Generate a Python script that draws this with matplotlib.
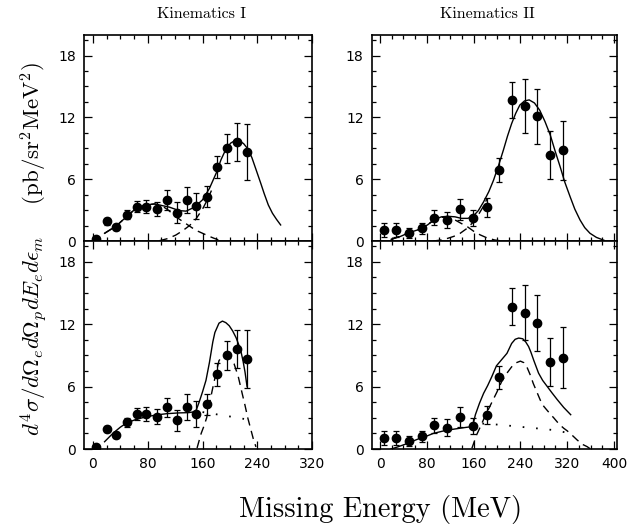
import matplotlib
matplotlib.use("Agg")
from matplotlib import pyplot as plt
from matplotlib.ticker import MultipleLocator

plt.rcParams['mathtext.fontset'] = 'cm'
plt.rcParams['lines.scale_dashes'] = False

# Kinematics I data points (missing energy in MeV, cross section, error)
k1_e = [5, 20, 34, 49, 64, 78, 93, 108, 122, 137, 151, 166, 181, 196, 210, 225]
k1_xs = [0.17, 1.9, 1.35, 2.55, 3.35, 3.35, 3.1, 4.0, 2.75, 4.0, 3.4, 4.3, 7.2, 9.0, 9.6, 8.65]
k1_err = [0.1, 0.3, 0.3, 0.45, 0.55, 0.65, 0.7, 0.95, 1.0, 1.25, 1.25, 1.0, 1.1, 1.4, 1.85, 2.75]

# Kinematics II data points
k2_e = [6, 28, 49, 71, 93, 115, 137, 159, 182, 204, 226, 248, 269, 291, 312]
k2_xs = [1.07, 1.07, 0.75, 1.23, 2.27, 2.04, 3.08, 2.2, 3.28, 6.9, 13.7, 13.1, 12.1, 8.37, 8.79]
k2_err = [0.71, 0.65, 0.49, 0.55, 0.76, 0.8, 1.0, 0.78, 0.9, 1.13, 1.78, 2.63, 2.67, 2.35, 2.9]

# Kinematics I, two-gaussian fit (top)
k1_fit_e = [17, 34, 49, 63, 78, 90, 97, 112, 126, 136, 148, 160, 170, 180, 187, 194, 201, 208,
            214, 220, 226, 232, 238, 245, 250, 256, 262, 268, 274]
k1_fit = [0.75, 1.46, 2.36, 3.18, 3.5, 3.6, 3.5, 3.28, 2.95, 2.9, 3.28, 4.0, 5.1, 6.6, 7.9, 8.9, 9.5, 9.78,
          9.72, 9.45, 8.95, 8.1, 6.95, 5.6, 4.6, 3.5, 2.7, 2.1, 1.56]
k1_fit_lo_e = [17, 34, 49, 63, 78, 90, 100, 110, 121, 131, 141, 150, 160, 170, 177, 183]
k1_fit_lo = [0.75, 1.46, 2.36, 3.18, 3.5, 3.6, 3.45, 3.0, 2.36, 1.9, 1.45, 1.05, 0.75, 0.45, 0.26, 0.12]
k1_fit_hi_e = [97, 110, 121, 131, 141, 150, 160, 167, 173]
k1_fit_hi = [0.03, 0.25, 0.58, 1.0, 1.5, 2.1, 3.1, 4.0, 4.9]

# Kinematics I, model calculation (bottom)
k1_mod_e = [17, 29, 40, 49, 63, 78, 93, 108, 125, 140, 150, 155, 160, 165, 170, 175, 178, 184, 189,
            194, 199, 204, 209, 213, 216, 219, 222, 225]
k1_mod = [0.7, 1.5, 2.1, 2.5, 2.85, 3.1, 3.28, 3.4, 3.47, 3.5, 3.6, 4.5, 5.5, 6.6, 8.3, 10.3, 11.2, 12.1, 12.3,
          12.15, 11.85, 11.35, 10.7, 10.0, 9.4, 8.5, 7.4, 6.0]
k1_mod_lo_e = [160, 175, 190, 205, 218, 225]
k1_mod_lo = [3.55, 3.4, 3.22, 3.08, 2.92, 2.85]
k1_mod_hi_e = [152, 155, 158, 162, 166, 170, 174, 178, 184, 189, 194, 200, 206, 212, 218, 222, 226, 230, 234, 238]
k1_mod_hi = [0.1, 0.8, 1.5, 2.2, 3.0, 4.3, 5.6, 6.8, 8.5, 8.9, 9.0, 8.8, 8.2, 7.0, 5.3, 4.2, 3.0, 2.0, 1.0, 0.2]

# Kinematics II, two-gaussian fit (top)
k2_fit_e = [19, 35, 47, 60, 71, 82, 93, 105, 116, 128, 139, 150, 159, 168, 177, 186, 194, 203, 211, 218,
            225, 232, 239, 247, 255, 264, 273, 282, 291, 299, 308, 316, 325, 333, 342, 350, 359, 370, 383]
k2_fit = [0.16, 0.45, 0.75, 1.0, 1.2, 1.6, 2.1, 2.35, 2.4, 2.35, 2.2, 2.2, 2.4, 2.95, 3.8, 4.8, 5.9, 7.4, 8.85, 10.2,
          11.4, 12.4, 13.2, 13.6, 13.7, 13.4, 12.7, 11.6, 10.3, 8.8, 7.2, 5.7, 4.3, 3.1, 2.04, 1.3, 0.75, 0.35, 0.07]
k2_fit_lo_e = [19, 47, 71, 93, 105, 116, 128, 139, 149, 160, 171, 183, 196, 205]
k2_fit_lo = [0.16, 0.75, 1.2, 2.05, 2.3, 2.3, 2.05, 1.7, 1.4, 0.95, 0.6, 0.3, 0.1, 0.03]
k2_fit_hi_e = [91, 102, 114, 126, 137, 148, 157, 166, 175, 183]
k2_fit_hi = [0.0, 0.08, 0.23, 0.45, 0.75, 1.2, 1.7, 2.35, 3.2, 4.1]

# Kinematics II, model calculation (bottom)
k2_mod_e = [19, 30, 45, 57, 68, 80, 91, 102, 113, 125, 137, 147, 157, 160, 163, 170, 177, 184, 191, 199,
            208, 217, 225, 231, 237, 244, 249, 254, 258, 263, 267, 271, 278, 286, 294, 303, 314, 326]
k2_mod = [0.0, 0.2, 0.5, 0.78, 1.03, 1.25, 1.5, 1.65, 1.8, 1.9, 2.0, 2.08, 2.15, 2.6, 3.3, 4.4, 5.35, 6.1, 6.95, 8.0,
          8.6, 9.2, 10.15, 10.55, 10.67, 10.6, 10.3, 9.85, 9.3, 8.5, 7.9, 7.3, 6.6, 6.0, 5.4, 4.75, 4.0, 3.3]
k2_mod_lo_e = [175, 200, 225, 250, 275, 300, 325]
k2_mod_lo = [2.45, 2.35, 2.22, 2.08, 1.95, 1.8, 1.5]
k2_mod_hi_e = [157, 161, 165, 172, 179, 186, 193, 200, 208, 217, 225, 233, 240, 246, 251, 257, 262, 268, 274,
               280, 286, 292, 297, 303, 308, 314, 320, 328, 337, 346, 354, 360]
k2_mod_hi = [0.07, 0.7, 1.35, 2.2, 3.1, 3.9, 4.7, 5.5, 6.5, 7.3, 7.9, 8.3, 8.45, 8.3, 7.9, 7.1, 6.3, 5.5, 4.7,
             4.1, 3.7, 3.3, 3.0, 2.6, 2.3, 2.0, 1.75, 1.35, 0.87, 0.45, 0.23, 0.0]

DASH = (0, (6, 4))
DOT = (0, (1.2, 8.5))


def style_axes(ax, xlim, show_xlabels):
    ax.set_xlim(*xlim)
    ax.set_ylim(0, 20)
    ax.xaxis.set_major_locator(MultipleLocator(80))
    ax.xaxis.set_minor_locator(MultipleLocator(20))
    ax.yaxis.set_major_locator(MultipleLocator(6))
    ax.yaxis.set_minor_locator(MultipleLocator(1.5))
    ax.tick_params(which='both', direction='in', top=True, right=True, width=0.9,
                   labelsize=10, pad=6)
    ax.tick_params(which='major', length=6)
    ax.tick_params(which='minor', length=3)
    if not show_xlabels:
        ax.tick_params(axis='x', labelbottom=False)
    for s in ax.spines.values():
        s.set_linewidth(1.2)


def draw_points(ax, e, xs, err):
    ax.errorbar(e, xs, yerr=err, fmt='o', color='black', ms=6, elinewidth=0.9,
                capsize=2.2, capthick=0.9, zorder=3)


fig = plt.figure(figsize=(6.39, 5.31), dpi=100)
ax_tl = fig.add_axes([0.1315, 0.5461, 0.357, 0.388])
ax_tr = fig.add_axes([0.582, 0.5461, 0.3834, 0.388])
ax_bl = fig.add_axes([0.1315, 0.1544, 0.357, 0.3917])
ax_br = fig.add_axes([0.582, 0.1544, 0.3834, 0.3917])

# Kinematics I, fit
ax_tl.plot(k1_fit_e, k1_fit, color='black', lw=1.0)
ax_tl.plot(k1_fit_lo_e, k1_fit_lo, color='black', lw=1.0, linestyle=DASH)
ax_tl.plot(k1_fit_hi_e, k1_fit_hi, color='black', lw=1.0, linestyle=DASH)
draw_points(ax_tl, k1_e, k1_xs, k1_err)

# Kinematics II, fit
ax_tr.plot(k2_fit_e, k2_fit, color='black', lw=1.0)
ax_tr.plot(k2_fit_lo_e, k2_fit_lo, color='black', lw=1.0, linestyle=DASH)
ax_tr.plot(k2_fit_hi_e, k2_fit_hi, color='black', lw=1.0, linestyle=DASH)
draw_points(ax_tr, k2_e, k2_xs, k2_err)

# Kinematics I, model
ax_bl.plot(k1_mod_e, k1_mod, color='black', lw=1.0)
ax_bl.plot(k1_mod_lo_e, k1_mod_lo, color='black', lw=1.3, linestyle=DOT)
ax_bl.plot(k1_mod_hi_e, k1_mod_hi, color='black', lw=1.0, linestyle=DASH)
draw_points(ax_bl, k1_e, k1_xs, k1_err)

# Kinematics II, model
ax_br.plot(k2_mod_e, k2_mod, color='black', lw=1.0)
ax_br.plot(k2_mod_lo_e, k2_mod_lo, color='black', lw=1.3, linestyle=DOT)
ax_br.plot(k2_mod_hi_e, k2_mod_hi, color='black', lw=1.0, linestyle=DASH)
draw_points(ax_br, k2_e, k2_xs, k2_err)

style_axes(ax_tl, (-13, 320), False)
style_axes(ax_bl, (-13, 320), True)
style_axes(ax_tr, (-14, 405), False)
style_axes(ax_br, (-14, 405), True)

fig.text(0.315, 0.974, "Kinematics I", family='cmr10', fontsize=11.5, ha='center', va='center')
fig.text(0.762, 0.974, "Kinematics II", family='cmr10', fontsize=11.5, ha='center', va='center')
fig.text(0.596, 0.041, "Missing Energy (MeV)", family='cmr10', fontsize=20.5, ha='center', va='center')
fig.text(0.054, 0.53,
         r"$d^4\sigma/d\Omega_e d\Omega_p dE_e d\epsilon_m\quad\;\;\mathrm{(pb/sr^2MeV^2)}$",
         fontsize=16.5, rotation=90, ha='center', va='center')

plt.savefig("out.png", dpi=100)
